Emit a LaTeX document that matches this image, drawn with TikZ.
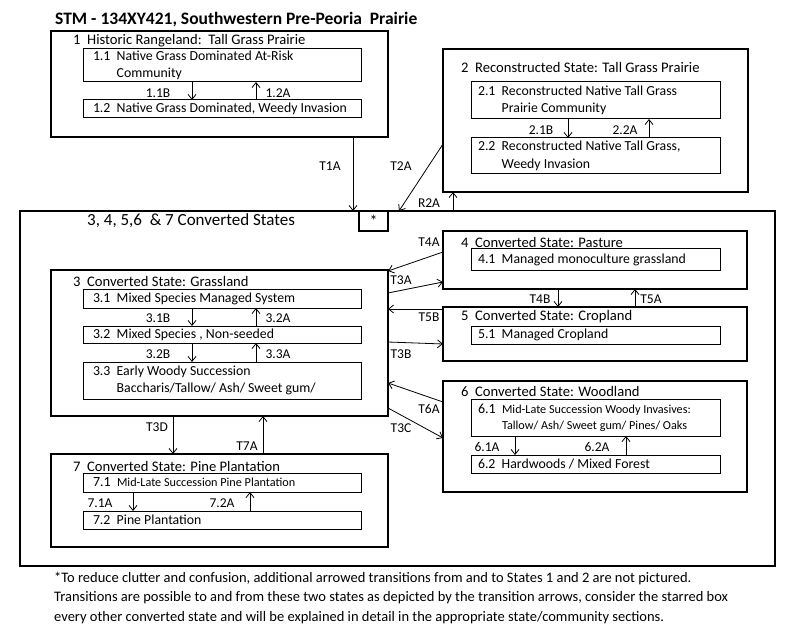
\documentclass[tikz,border=0pt]{standalone}
\usepackage{fontspec}
\setmainfont{Carlito}
\usetikzlibrary{arrows.meta}
\begin{document}
\begin{tikzpicture}[x=1pt,y=-1pt,
    >={Straight Barb[length=5pt,width=8pt]},
    state/.style={draw,line width=1.8pt,anchor=north west,inner sep=0pt,outer sep=0pt},
    comm/.style={draw,line width=1pt,anchor=north west,inner ysep=0pt,outer sep=0pt,align=flush left,font=\fontsize{13.8}{17.5}\selectfont},
    lcomm/.style={comm,inner xsep=10pt,text width=258pt},
    rcomm/.style={comm,inner xsep=7pt,text width=235pt},
    small/.style={font=\fontsize{12.2}{16}\selectfont},
    head/.style={anchor=west,inner sep=0pt,font=\fontsize{14.6}{17}\selectfont},
    lab/.style={inner sep=0pt,font=\fontsize{13.5}{16}\selectfont},
    trans/.style={->,line width=0.8pt}]
  \useasboundingbox (0,0) rectangle (800,644);
  \node[anchor=west,inner sep=0pt,font=\bfseries\fontsize{17.5}{20}\selectfont] (title) at (55,20) {STM - 134XY421, Southwestern Pre-Peoria\ \ Prairie};

  % state 1
  \node[state,minimum width=337pt,minimum height=106pt] (s1) at (51,31) {};
  \node[head] (h1) at (73,41) {1\ \ Historic Rangeland:\ \ Tall Grass Prairie};
  \node[lcomm,minimum height=33pt] (c11) at (83,49) {1.1\ \ Native Grass Dominated At-Risk\\\phantom{1.1\ \ }Community};
  \node[lcomm,minimum height=18pt] (c12) at (83,100) {1.2\ \ Native Grass Dominated, Weedy Invasion};
  \draw[trans] (c11.south -| 192,0) -- (c12.north -| 192,0);
  \draw[trans] (c12.north -| 256,0) -- (c11.south -| 256,0);
  \node[lab] (l11b) at (158,93) {1.1B};
  \node[lab] (l12a) at (278,93) {1.2A};

  % state 2
  \node[state,minimum width=305pt,minimum height=143pt] (s2) at (443,49) {};
  \node[head] (h2) at (461,67) {2\ \ Reconstructed State: Tall Grass Prairie};
  \node[rcomm,minimum height=37pt] (c21) at (471,82) {2.1\ \ Reconstructed Native Tall Grass\\\phantom{2.1\ \ }Prairie Community};
  \node[rcomm,minimum height=36pt] (c22) at (471,138) {2.2\ \ Reconstructed Native Tall Grass,\\\phantom{2.2\ \ }Weedy Invasion};
  \draw[trans] (c21.south -| 568,0) -- (c22.north -| 568,0);
  \draw[trans] (c22.north -| 649,0) -- (c21.south -| 649,0);
  \node[lab] (l21b) at (541,130) {2.1B};
  \node[lab] (l22a) at (625,130) {2.2A};

  % converted states
  \node[state,minimum width=755pt,minimum height=355pt] (cs) at (20,211) {};
  \node[head,font=\fontsize{17}{20}\selectfont] (hcs) at (87,221) {3, 4, 5,6\ \ \&\ 7 Converted States};
  \node[state,minimum width=29pt,minimum height=20pt,font=\fontsize{16}{18}\selectfont] (star) at (359,211) {*};

  \draw[trans] (s1.south -| 353,0) -- (cs.north -| 353,0);
  \node[lab] (lt1a) at (330,166) {T1A};
  \draw[trans] (s2.west |- 0,144) -- (cs.north -| 399,0);
  \node[lab] (lt2a) at (401,166) {T2A};
  \draw[trans] (cs.north -| 453,0) -- (s2.south -| 453,0);
  \node[lab] (lr2a) at (429,203) {R2A};

  % state 3
  \node[state,minimum width=337pt,minimum height=146pt] (s3) at (51,270) {};
  \node[head] (h3) at (73,281) {3\ \ Converted State: Grassland};
  \node[lcomm,minimum height=19pt] (c31) at (83,289) {3.1\ \ Mixed Species Managed System};
  \node[lcomm,minimum height=17pt] (c32) at (83,326) {3.2\ \ Mixed Species , Non-seeded};
  \node[lcomm,minimum height=37pt] (c33) at (83,362) {3.3\ \ Early Woody Succession\\\phantom{3.3\ \ }Baccharis/Tallow/ Ash/ Sweet gum/};
  \draw[trans] (c31.south -| 192,0) -- (c32.north -| 192,0);
  \draw[trans] (c32.north -| 256,0) -- (c31.south -| 256,0);
  \draw[trans] (c32.south -| 192,0) -- (c33.north -| 192,0);
  \draw[trans] (c33.north -| 256,0) -- (c32.south -| 256,0);
  \node[lab] (l31b) at (158,318) {3.1B};
  \node[lab] (l32a) at (278,318) {3.2A};
  \node[lab] (l32b) at (158,354) {3.2B};
  \node[lab] (l33a) at (278,354) {3.3A};

  % state 4
  \node[state,minimum width=304pt,minimum height=58pt] (s4) at (443,231) {};
  \node[head] (h4) at (461,242) {4\ \ Converted State: Pasture};
  \node[rcomm,minimum height=22pt] (c41) at (471,249) {4.1\ \ Managed monoculture grassland};

  % state 5
  \node[state,minimum width=304pt,minimum height=54pt] (s5) at (443,307) {};
  \node[head] (h5) at (461,317) {5\ \ Converted State: Cropland};
  \node[rcomm,minimum height=18pt] (c51) at (471,326) {5.1\ \ Managed Cropland};

  % state 6
  \node[state,minimum width=304pt,minimum height=111pt] (s6) at (443,381) {};
  \node[head] (h6) at (461,391) {6\ \ Converted State: Woodland};
  \node[rcomm,small,minimum height=37pt] (c61) at (471,399) {{\fontsize{14}{16}\selectfont 6.1\ \ }Mid-Late Succession Woody Invasives:\\\phantom{\fontsize{14}{16}\selectfont 6.1\ \ }Tallow/ Ash/ Sweet gum/ Pines/ Oaks};
  \node[rcomm,minimum height=18pt] (c62) at (471,455) {6.2\ \ Hardwoods / Mixed Forest};
  \draw[trans] (c61.south -| 515,0) -- (c62.north -| 515,0);
  \draw[trans] (c62.north -| 626,0) -- (c61.south -| 626,0);
  \node[lab] (l61a) at (487,447) {6.1A};
  \node[lab] (l62a) at (597,447) {6.2A};

  % state 7
  \node[state,minimum width=337pt,minimum height=93pt] (s7) at (51,454) {};
  \node[head] (h7) at (73,466) {7\ \ Converted State: Pine Plantation};
  \node[lcomm,small,minimum height=19pt] (c71) at (83,473) {{\fontsize{14}{16}\selectfont 7.1\ \ }Mid-Late Succession Pine Plantation};
  \node[lcomm,minimum height=18pt] (c72) at (83,511) {7.2\ \ Pine Plantation};
  \draw[trans] (c71.south -| 133,0) -- (c72.north -| 133,0);
  \draw[trans] (c72.north -| 250,0) -- (c71.south -| 250,0);
  \node[lab] (l71a) at (100,503) {7.1A};
  \node[lab] (l72a) at (222,503) {7.2A};

  % transitions between converted states
  \draw[trans] (s4.west |- 0,252) -- (s3.east |- 0,271);
  \node[lab] (lt4a) at (429,242) {T4A};
  \draw[trans] (s3.east |- 0,293) -- (s4.west |- 0,282);
  \node[lab] (lt3a) at (401,280) {T3A};
  \draw[trans] (s5.west |- 0,309) -- (s3.east |- 0,309);
  \node[lab] (lt5b) at (429,317) {T5B};
  \draw[trans] (s3.east |- 0,342) -- (s5.west |- 0,344);
  \node[lab] (lt3b) at (401,354) {T3B};
  \draw[trans] (s6.west |- 0,402) -- (s3.east |- 0,383);
  \node[lab] (lt6a) at (429,409) {T6A};
  \draw[trans] (s3.east |- 0,408) -- (s6.west |- 0,438);
  \node[lab] (lt3c) at (401,428) {T3C};
  \draw[trans] (s4.south -| 558,0) -- (s5.north -| 558,0);
  \node[lab] (lt4b) at (540,299) {T4B};
  \draw[trans] (s5.north -| 635,0) -- (s4.south -| 635,0);
  \node[lab] (lt5a) at (651,299) {T5A};
  \draw[trans] (s3.south -| 173,0) -- (s7.north -| 173,0);
  \node[lab] (lt3d) at (157,427) {T3D};
  \draw[trans] (s7.north -| 263,0) -- (s3.south -| 263,0);
  \node[lab] (lt7a) at (247,446) {T7A};

  \node[anchor=north west,inner sep=0pt,align=left,font=\fontsize{14.5}{19.5}\selectfont] (note) at (54,572) {*To reduce clutter and confusion, additional arrowed transitions from and to States 1 and 2 are not pictured.\\Transitions are possible to and from these two states as depicted by the transition arrows, consider the starred box\\every other converted state and will be explained in detail in the appropriate state/community sections.};
\end{tikzpicture}
\end{document}
